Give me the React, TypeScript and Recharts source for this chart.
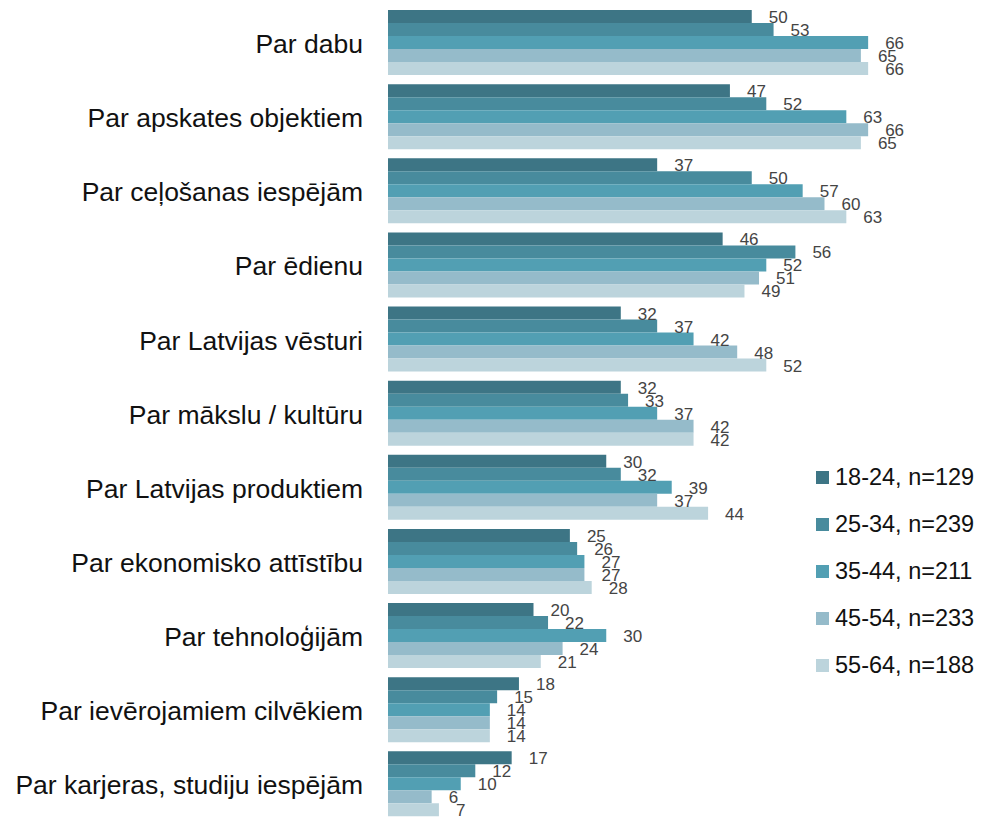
import { BarChart, Bar, XAxis, YAxis, LabelList } from "recharts";

const topics = [
  "Par dabu",
  "Par apskates objektiem",
  "Par ceļošanas iespējām",
  "Par ēdienu",
  "Par Latvijas vēsturi",
  "Par mākslu / kultūru",
  "Par Latvijas produktiem",
  "Par ekonomisko attīstību",
  "Par tehnoloģijām",
  "Par ievērojamiem cilvēkiem",
  "Par karjeras, studiju iespējām",
];

const age18 = [50, 47, 37, 46, 32, 32, 30, 25, 20, 18, 17];
const age25 = [53, 52, 50, 56, 37, 33, 32, 26, 22, 15, 12];
const age35 = [66, 63, 57, 52, 42, 37, 39, 27, 30, 14, 10];
const age45 = [65, 66, 60, 51, 48, 42, 37, 27, 24, 14, 6];
const age55 = [66, 65, 63, 49, 52, 42, 44, 28, 21, 14, 7];

const groups = [
  { key: "a18", name: "18-24, n=129", color: "#3d7585", values: age18 },
  { key: "a25", name: "25-34, n=239", color: "#488b9d", values: age25 },
  { key: "a35", name: "35-44, n=211", color: "#529fb3", values: age35 },
  { key: "a45", name: "45-54, n=233", color: "#95bbca", values: age45 },
  { key: "a55", name: "55-64, n=188", color: "#bcd4dc", values: age55 },
];

const rows = topics.map((name, i) => {
  const row: Record<string, string | number> = { name };
  groups.forEach((g) => (row[g.key] = g.values[i]));
  return row;
});

const font = "'Liberation Sans', Arial, Helvetica, sans-serif";

function ValueLabel(props: any) {
  const { x, y, width, height, value } = props;
  return (
    <text x={x + width + 17} y={y + height / 2 + 2} dominantBaseline="middle" fontSize={17} fill="#444" fontFamily={font}>
      {value}
    </text>
  );
}

export default function App() {
  return (
    <div style={{ position: "absolute", left: 0, top: 0, width: 987, height: 819, overflow: "hidden", background: "#fff", fontFamily: font }}>
      <BarChart width={987} height={822} data={rows} layout="vertical" margin={{ top: 6.5, right: 17, bottom: 0, left: 0 }} barCategoryGap={3.5} barGap={0}>
        <XAxis type="number" domain={[0, 80]} hide />
        <YAxis
          type="category"
          dataKey="name"
          width={388}
          axisLine={false}
          tickLine={false}
          tickSize={6}
          tickMargin={19}
          tick={{ fontSize: 26.5, fill: "#111", fontFamily: font }}
          interval={0}
        />
        {groups.map((g) => (
          <Bar key={g.key} dataKey={g.key} name={g.name} fill={g.color} isAnimationActive={false}>
            <LabelList dataKey={g.key} content={ValueLabel} />
          </Bar>
        ))}
      </BarChart>
      <div style={{ position: "absolute", left: 816, top: 454 }}>
        {groups.map((g) => (
          <div key={g.key} style={{ display: "flex", alignItems: "center", height: 47, fontSize: 23.5, color: "#111" }}>
            <span style={{ width: 13, height: 13, background: g.color, marginRight: 6, display: "inline-block" }} />
            {g.name}
          </div>
        ))}
      </div>
    </div>
  );
}
